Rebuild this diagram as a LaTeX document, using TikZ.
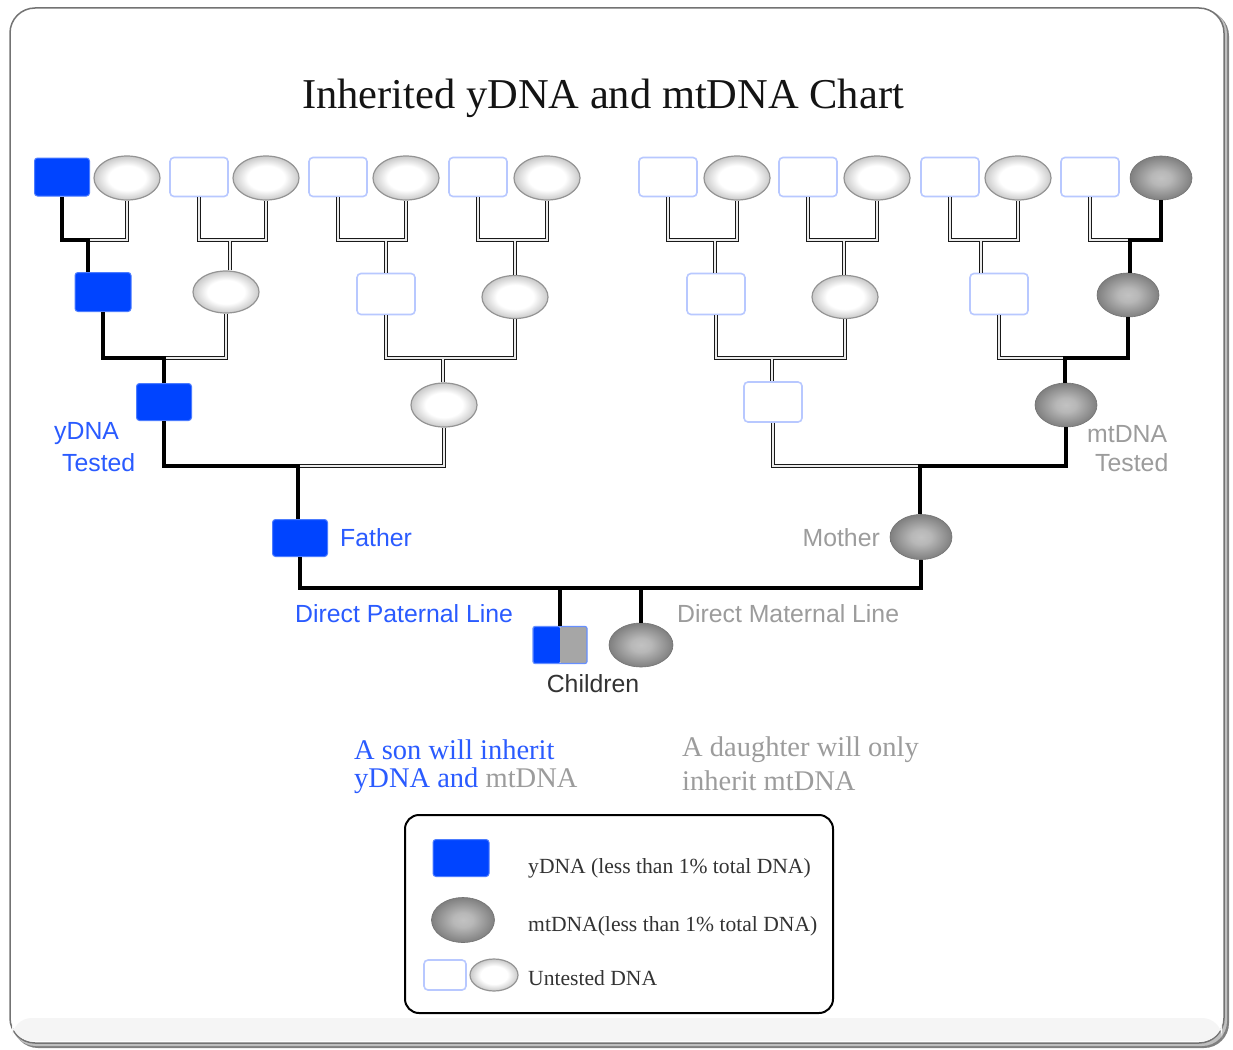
\documentclass[tikz,border=0pt]{standalone}
\usepackage{fontspec}
\setmainfont{Liberation Serif}
\newfontfamily\sansf{Liberation Sans}
\usetikzlibrary{shapes.geometric}
\definecolor{yblue}{HTML}{0044FF}
\definecolor{lblue}{HTML}{2A5BFF}
\definecolor{ubord}{HTML}{B8C8FF}
\definecolor{gtext}{HTML}{9C9C9C}
\definecolor{dtext}{HTML}{333333}
\pgfdeclareradialshading{ugrad}{\pgfpoint{0bp}{0bp}}{color(0bp)=(white); color(14bp)=(white); color(25bp)=(black!21); color(50bp)=(black!21)}
\pgfdeclareradialshading{mgrad}{\pgfpoint{0bp}{0bp}}{color(0bp)=(black!24); color(8bp)=(black!28); color(25bp)=(black!50); color(50bp)=(black!50)}
\begin{document}
\begin{tikzpicture}[x=1pt,y=-1pt,
  ybox/.style={rectangle, rounded corners=3pt, fill=yblue, draw=yblue!70!white, line width=1pt, minimum width=55pt, minimum height=38pt, inner sep=0pt},
  ubox/.style={rectangle, rounded corners=4pt, fill=white, draw=ubord, line width=1.6pt, minimum width=58pt, minimum height=39pt, inner sep=0pt},
  uell/.style={ellipse, draw=black!42, line width=1.2pt, shading=ugrad, minimum width=66pt, minimum height=44pt, inner sep=0pt},
  mell/.style={ellipse, draw=black!55, line width=0.6pt, shading=mgrad, minimum width=62pt, minimum height=44pt, inner sep=0pt},
  tline/.style={line width=4pt, black},
  dline/.style={draw=black!90, line width=1.1pt, double=black!8, double distance=2.2pt},
  lab/.style={font=\sansf\fontsize{24.8}{28}\selectfont, inner sep=0pt},
  stxt/.style={font=\fontsize{28.5}{32}\selectfont, inner sep=0pt, anchor=west},
  legtxt/.style={font=\fontsize{21.6}{24}\selectfont, text=dtext, inner sep=0pt, anchor=west}
]
\useasboundingbox (0,0) rectangle (1233,1049);
% frame
\fill[black!50, rounded corners=25pt] (13,11) rectangle (1229,1048);
\fill[black!25, rounded corners=25pt] (11,9) rectangle (1227,1046);
\draw[black!55, line width=1.5pt, fill=white, rounded corners=25pt] (10,8) rectangle (1224,1043);
\fill[black!4, rounded corners=20pt] (12,1018) rectangle (1222,1041);

% title
\node[font=\fontsize{42.5}{48}\selectfont, text=black!92] (title) at (603,98) {Inherited yDNA and mtDNA Chart};

% generation 1
\node[ybox] (b1) at (62,177) {};
\node[uell] (e1) at (127,178) {};
\node[ubox] (b2) at (199,177) {};
\node[uell] (e2) at (266,178) {};
\node[ubox] (b3) at (338,177) {};
\node[uell] (e3) at (406,178) {};
\node[ubox] (b4) at (478,177) {};
\node[uell] (e4) at (547,178) {};
\node[ubox] (b5) at (668,177) {};
\node[uell] (e5) at (737,178) {};
\node[ubox] (b6) at (808,177) {};
\node[uell] (e6) at (877,178) {};
\node[ubox] (b7) at (950,177) {};
\node[uell] (e7) at (1018,178) {};
\node[ubox] (b8) at (1090,177) {};
\node[mell] (e8) at (1161,178) {};

% generation 2
\node[ybox, minimum width=56pt, minimum height=39pt] (g2a) at (103,292) {};
\node[uell, minimum height=42pt] (g2e1) at (226,292) {};
\node[ubox, minimum height=41pt] (g2b2) at (386,294) {};
\node[uell, minimum height=43pt] (g2e2) at (515,297) {};
\node[ubox, minimum height=41pt] (g2b3) at (716,294) {};
\node[uell, minimum height=43pt] (g2e3) at (845,297) {};
\node[ubox, minimum height=41pt] (g2b4) at (999,294) {};
\node[mell] (g2e4) at (1128,295) {};

% generation 3
\node[ybox, minimum height=37pt] (g3a) at (164,402) {};
\node[uell] (g3e1) at (444,405) {};
\node[ubox, minimum height=40pt] (g3b2) at (773,402) {};
\node[mell] (g3e2) at (1066,405) {};

% parents and children
\node[ybox, minimum height=37pt] (father) at (300,538) {};
\node[mell, minimum height=45pt] (mother) at (921,537) {};
\node[rectangle, rounded corners=2pt, draw=yblue!60!white, line width=1.2pt, minimum width=54pt, minimum height=37pt, inner sep=0pt,
  path picture={\fill[yblue] (path picture bounding box.south west) rectangle (path picture bounding box.north);
                \fill[black!35] (path picture bounding box.south) rectangle (path picture bounding box.north east);}] (son) at (560,645) {};
\node[mell, minimum width=64pt] (daughter) at (641,645) {};

% junctions
\coordinate (jA) at (88,240);  \coordinate (jB) at (230,240);
\coordinate (jC) at (386,240); \coordinate (jD) at (515,240);
\coordinate (jE) at (715,240); \coordinate (jF) at (844,240);
\coordinate (jG) at (981,240); \coordinate (jH) at (1130,240);
\coordinate (jI) at (164,358); \coordinate (jJ) at (443,358);
\coordinate (jK) at (772,358); \coordinate (jL) at (1065,358);
\coordinate (jM) at (298,466); \coordinate (jN) at (920,466);
\coordinate (jP) at (921,588);
\coordinate (js) at (560,588); \coordinate (jd) at (641,588);

% untested (double) connectors
\draw[dline] (e1.south) |- (jA);
\draw[dline] (b2.south) |- (e2.south |- jB) -- (e2.south) (jB) -- (jB |- g2e1.north);
\draw[dline] (b3.south) |- (e3.south |- jC) -- (e3.south) (jC) -- (jC |- g2b2.north);
\draw[dline] (b4.south) |- (e4.south |- jD) -- (e4.south) (jD) -- (jD |- g2e2.north);
\draw[dline] (b5.south) |- (e5.south |- jE) -- (e5.south) (jE) -- (jE |- g2b3.north);
\draw[dline] (b6.south) |- (e6.south |- jF) -- (e6.south) (jF) -- (jF |- g2e3.north);
\draw[dline] (b7.south) |- (e7.south |- jG) -- (e7.south) (jG) -- (jG |- g2b4.north);
\draw[dline] (b8.south) |- (jH);
\draw[dline] (g2e1.south) |- (jI);
\draw[dline] (g2b2.south) |- (g2e2.south |- jJ) -- (g2e2.south) (jJ) -- (jJ |- g3e1.north);
\draw[dline] (g2b3.south) |- (g2e3.south |- jK) -- (g2e3.south) (jK) -- (jK |- g3b2.north);
\draw[dline] (g2b4.south) |- (jL);
\draw[dline] (g3e1.south) |- (jM);
\draw[dline] (g3b2.south) |- (jN);

% tested (thick) connectors
\draw[tline] (b1.south) |- (jA) -- (jA |- g2a.north);
\draw[tline] (e8.south) |- (jH) -- (jH |- g2e4.north);
\draw[tline] (g2a.south) |- (jI) -- (g3a.north);
\draw[tline] (g2e4.south) |- (jL) -- (jL |- g3e2.north);
\draw[tline] (g3a.south) |- (jM) -- (jM |- father.north);
\draw[tline] (g3e2.south) |- (jN) -- (jN |- mother.north);
\draw[tline] (father.south) |- (jP) -- (mother.south);
\draw[tline] (js) -- (son.north);
\draw[tline] (jd) -- (daughter.north);

% labels
\node[lab, text=lblue, anchor=west] (ylab1) at (54,434) {yDNA};
\node[lab, text=lblue, anchor=west] (ylab2) at (62,463) {Tested};
\node[lab, text=gtext, anchor=west] (mlab1) at (1087,434) {mtDNA};
\node[lab, text=gtext, anchor=west] (mlab2) at (1095,463) {Tested};
\node[lab, text=lblue, anchor=west] (flab) at (340,538) {Father};
\node[lab, text=gtext, anchor=east] (molab) at (880,538) {Mother};
\node[lab, text=lblue, anchor=west] (plab) at (295,614) {Direct Paternal Line};
\node[lab, text=gtext, anchor=west] (mllab) at (677,614) {Direct Maternal Line};
\node[lab, text=dtext] (clab) at (593,684) {Children};

% explanation
\node[stxt, text=lblue] (son1) at (354,750) {A son will inherit};
\node[stxt] (son2) at (354,781) {\textcolor{lblue}{yDNA and} \textcolor{gtext}{mtDNA}};
\node[stxt, text=gtext] (dau1) at (682,750) {A daughter will only};
\node[stxt, text=gtext] (dau2) at (682,781) {inherit mtDNA};

% legend
\node[draw=black, line width=2pt, rounded corners=14pt, minimum width=428pt, minimum height=198pt, fill=white] (legend) at (619,914) {};
\node[ybox, minimum width=56pt, minimum height=37pt] (lgy) at (461,858) {};
\node[mell, minimum width=63pt, minimum height=45pt] (lgm) at (463,920) {};
\node[ubox, minimum width=42pt, minimum height=30pt] (lgub) at (445,975) {};
\node[uell, minimum width=48pt, minimum height=32pt] (lgue) at (494,975) {};
\node[legtxt] (lgt1) at (528,868) {yDNA (less than 1\% total DNA)};
\node[legtxt] (lgt2) at (528,926) {mtDNA(less than 1\% total DNA)};
\node[legtxt] (lgt3) at (528,978) {Untested DNA};
\end{tikzpicture}
\end{document}
